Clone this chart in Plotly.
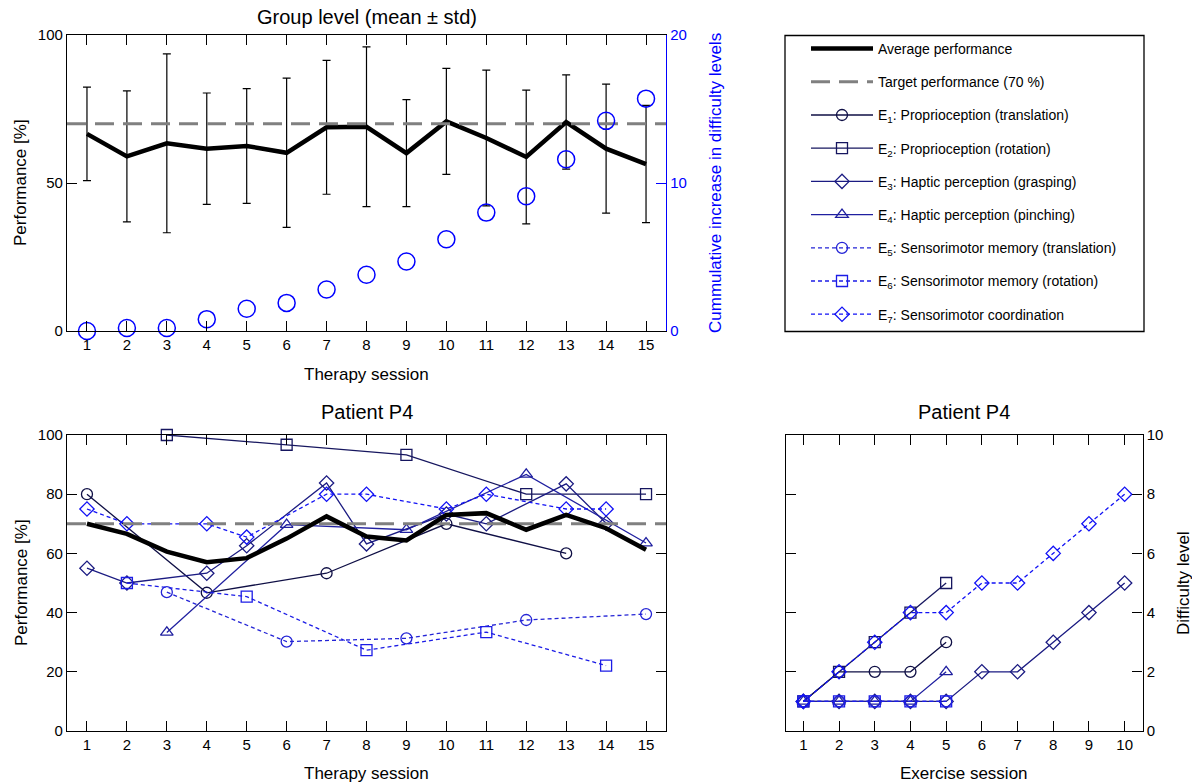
import plotly.graph_objects as go

# ---------------- data ----------------
sessions = list(range(1, 16))
group_mean = [66.6, 59.0, 63.4, 61.6, 62.5, 60.2, 68.8, 69.0, 60.1, 70.8, 65.2, 58.8, 70.6, 61.6, 56.4]
group_std = [15.8, 22.1, 30.2, 18.8, 19.4, 25.2, 22.6, 27.0, 18.1, 17.9, 22.9, 22.6, 15.9, 21.8, 19.8]
cum_increase = [0, 0.2, 0.2, 0.8, 1.5, 1.9, 2.8, 3.8, 4.7, 6.2, 8.0, 9.1, 11.6, 14.2, 15.7]
target = 70

p4_avg = [70.0, 66.6, 60.6, 57.0, 58.4, 65.0, 72.5, 65.7, 64.4, 73.0, 73.6, 68.0, 73.0, 68.5, 61.2]

ex_names = [
    "E<sub>1</sub>: Proprioception (translation)",
    "E<sub>2</sub>: Proprioception (rotation)",
    "E<sub>3</sub>: Haptic perception (grasping)",
    "E<sub>4</sub>: Haptic perception (pinching)",
    "E<sub>5</sub>: Sensorimotor memory (translation)",
    "E<sub>6</sub>: Sensorimotor memory (rotation)",
    "E<sub>7</sub>: Sensorimotor coordination",
]
ex_sessions = [
    [1, 4, 7, 10, 13],
    [3, 6, 9, 12, 15],
    [1, 2, 4, 5, 7, 8, 10, 11, 13, 14],
    [3, 6, 9, 12, 15],
    [3, 6, 9, 12, 15],
    [2, 5, 8, 11, 14],
    [1, 2, 4, 5, 7, 8, 10, 11, 13, 14],
]
ex_perf = [
    [80, 46.7, 53.3, 70, 60],
    [100, 96.7, 93.3, 80, 80],
    [55, 50, 53.3, 62.6, 83.8, 63.2, 73.3, 70, 83.5, 70.2],
    [33.3, 69.7, 68, 86.7, 63.5],
    [46.9, 30.2, 31.3, 37.5, 39.5],
    [50, 45.4, 27.3, 33.4, 22.1],
    [75, 70, 70, 65.5, 80, 80, 75, 80, 75, 75],
]
ex_difficulty = [
    [1, 2, 2, 2, 3],
    [1, 2, 3, 4, 5],
    [1, 1, 1, 1, 1, 2, 2, 3, 4, 5],
    [1, 1, 1, 1, 2],
    [1, 1, 1, 1, 1],
    [1, 1, 1, 1, 1],
    [1, 2, 3, 4, 4, 5, 5, 6, 7, 8],
]

# ---------------- styles ----------------
ex_colors = ["#0f0f45", "#16165f", "#1b1b82", "#2020a0", "#2424d6", "#1c1ce6", "#1212f5"]
ex_symbols = ["circle-open", "square-open", "diamond-open", "triangle-up-open",
              "circle-open", "square-open", "diamond-open"]
ex_dash = ["solid"] * 4 + ["4px,3px"] * 3
FONT = "Liberation Sans, Arial, sans-serif"

# the page body adds an 8px margin, so the figure covers window pixels 8..1200 / 8..784
OFF = 8
W, H = 1200 - OFF, 784 - OFF
def px_x(p):
    return (p - OFF) / W
def px_y(p):
    return 1 - (p - OFF) / H

fig = go.Figure()

# --- top chart ---
fig.add_trace(go.Scatter(
    x=sessions, y=group_mean, mode="lines", name="Average performance",
    line=dict(color="black", width=4.5), legendgroup="avg", legendrank=1,
    error_y=dict(type="data", array=group_std, visible=True, color="black", thickness=1.2, width=4),
    xaxis="x", yaxis="y", cliponaxis=False))
fig.add_trace(go.Scatter(
    x=[0.5, 15.5], y=[target, target], mode="lines", name="Target performance (70 %)",
    line=dict(color="#808080", width=3, dash="19px,9px"), legendgroup="tgt", legendrank=2,
    xaxis="x", yaxis="y"))
fig.add_trace(go.Scatter(
    x=sessions, y=cum_increase, mode="markers", showlegend=False,
    marker=dict(symbol="circle-open", size=17, color="#0000ff", line=dict(width=1.5)),
    xaxis="x", yaxis="y2", cliponaxis=False))

# --- bottom-left: patient performance ---
for i in range(7):
    fig.add_trace(go.Scatter(
        x=ex_sessions[i], y=ex_perf[i], mode="lines+markers", name=ex_names[i],
        line=dict(color=ex_colors[i], width=1.3, dash=ex_dash[i]),
        marker=dict(symbol=ex_symbols[i], size=11, color=ex_colors[i], line=dict(width=1.3)),
        legendgroup=f"e{i}", legendrank=3 + i,
        xaxis="x2", yaxis="y3", cliponaxis=False))
fig.add_trace(go.Scatter(
    x=[0.5, 15.5], y=[target, target], mode="lines", showlegend=False,
    line=dict(color="#808080", width=3, dash="19px,9px"),
    xaxis="x2", yaxis="y3"))
fig.add_trace(go.Scatter(
    x=sessions, y=p4_avg, mode="lines", showlegend=False,
    line=dict(color="black", width=4.5), xaxis="x2", yaxis="y3"))

# --- bottom-right: difficulty ---
for i in range(7):
    n = len(ex_difficulty[i])
    fig.add_trace(go.Scatter(
        x=list(range(1, n + 1)), y=ex_difficulty[i], mode="lines+markers", showlegend=False,
        line=dict(color=ex_colors[i], width=1.3, dash=ex_dash[i]),
        marker=dict(symbol=ex_symbols[i], size=11, color=ex_colors[i], line=dict(width=1.3)),
        xaxis="x3", yaxis="y4", cliponaxis=False))

axis_common = dict(showgrid=False, zeroline=False, showline=True, linecolor="black", linewidth=1.3,
                   ticks="inside", ticklen=10, tickwidth=1.2, tickcolor="black", automargin=False,
                   tickfont=dict(family=FONT, size=15, color="black"))

top_dom_y = [px_y(331), px_y(35)]
bot_dom_y = [px_y(731), px_y(435)]
left_dom_x = [px_x(67), px_x(666)]
right_dom_x = [px_x(785.5), px_x(1142.5)]

fig.update_layout(
    template="none",
    width=W, height=H, margin=dict(l=0, r=0, t=0, b=0, pad=0), autosize=False,
    paper_bgcolor="white", plot_bgcolor="white",
    font=dict(family=FONT, size=15, color="black"),
    xaxis=dict(axis_common, domain=left_dom_x, range=[0.5, 15.5], tickvals=sessions,
               mirror="ticks", anchor="y"),
    yaxis=dict(axis_common, domain=top_dom_y, range=[0, 100], tickvals=[0, 50, 100], anchor="x"),
    yaxis2=dict(axis_common, overlaying="y", side="right", range=[0, 20], tickvals=[0, 10, 20],
                linecolor="#0000ff", tickcolor="#0000ff", anchor="x",
                tickfont=dict(family=FONT, size=15, color="#0000ff")),
    xaxis2=dict(axis_common, domain=left_dom_x, range=[0.5, 15.5], tickvals=sessions,
                mirror="ticks", anchor="y3"),
    yaxis3=dict(axis_common, domain=bot_dom_y, range=[0, 100], tickvals=[0, 20, 40, 60, 80, 100],
                mirror="ticks", anchor="x2"),
    xaxis3=dict(axis_common, domain=right_dom_x, range=[0.5, 10.5], tickvals=list(range(1, 11)),
                mirror="ticks", anchor="y4"),
    yaxis4=dict(axis_common, domain=bot_dom_y, range=[0, 10], tickvals=[0, 2, 4, 6, 8, 10],
                side="right", mirror="ticks", anchor="x3"),
    legend=dict(x=px_x(806), y=px_y(33), xanchor="left", yanchor="top",
                bgcolor="rgba(0,0,0,0)", borderwidth=0, tracegroupgap=12,
                font=dict(family=FONT, size=14, color="black"), itemwidth=62,
                traceorder="grouped"),
    showlegend=True,
)

# legend frame
fig.add_shape(type="rect", xref="paper", yref="paper",
              x0=px_x(785), x1=px_x(1144), y0=px_y(331.5), y1=px_y(35.5),
              line=dict(color="black", width=1.3), fillcolor="rgba(0,0,0,0)")

def ann(text, x, y, size=17, color="black", angle=0):
    fig.add_annotation(text=text, x=x, y=y, xref="paper", yref="paper", showarrow=False,
                       xanchor="center", yanchor="middle", textangle=angle,
                       font=dict(family=FONT, size=size, color=color))

ann("Group level (mean ± std)", px_x(366.5), px_y(17), size=20)
ann("Patient P4", px_x(366.5), px_y(412), size=20)
ann("Patient P4", px_x(964), px_y(412), size=20)
ann("Therapy session", px_x(366.5), px_y(374))
ann("Therapy session", px_x(366.5), px_y(773))
ann("Exercise session", px_x(964), px_y(773))
ann("Performance [%]", px_x(21), px_y(183), angle=-90)
ann("Performance [%]", px_x(21), px_y(583), angle=-90)
ann("Cummulative increase in difficulty levels", px_x(716), px_y(183), color="#0000ff", angle=-90)
ann("Difficulty level", px_x(1183), px_y(583), angle=-90)

fig.write_html("out.html")
